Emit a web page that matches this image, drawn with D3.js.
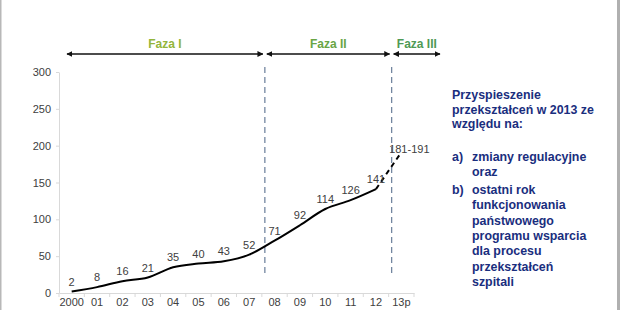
<!DOCTYPE html>
<html>
  <head>
    <meta charset="utf-8">
    <script src="https://d3js.org/d3.v7.min.js"></script>
    <title>Przekształcenia szpitali</title>
    <style>
      body { margin: 0px; background: #fff; }
      svg { font-family: "Liberation Sans", Arial, sans-serif; }
      .axis .domain, .axis .tick line { stroke: #d9d9d9; }
      .axis .tick text { fill: #404040; font-size: 11px; }
      .val { fill: #404040; font-size: 11px; text-anchor: middle; }
      .faza { font-size: 12px; font-weight: bold; text-anchor: middle; }
      .note { fill: #1a2e7e; font-size: 12.4px; font-weight: bold; }
    </style>
  </head>
  <body>
    <svg width="620" height="310"></svg>
    <script>
      // data
      const years = ['2000', '01', '02', '03', '04', '05', '06', '07', '08', '09', '10', '11', '12', '13p'];
      const values = [2, 8, 16, 21, 35, 40, 43, 52, 71, 92, 114, 126, 141];
      const forecastLow = 181;
      const forecastHigh = 191;
      const yTicks = [0, 50, 100, 150, 200, 250, 300];
      const phaseNames = ['Faza I', 'Faza II', 'Faza III'];
      const phaseStart = ['2000', '08', '13p'];
      const phaseColors = ['#93b53b', '#69a545', '#4f9a55'];
      const noteLines = ['Przyspieszenie', 'przekształceń w 2013 ze', 'względu na:'];
      const noteItems = [
        { key: 'a)', lines: ['zmiany regulacyjne', 'oraz'] },
        { key: 'b)', lines: ['ostatni rok', 'funkcjonowania', 'państwowego', 'programu wsparcia', 'dla procesu', 'przekształceń', 'szpitali'] }
      ];

      const margin = { left: 59, right: 206, top: 72, bottom: 17 };
      const svg = d3.select('svg');
      const width = +svg.attr('width');
      const height = +svg.attr('height');
      const innerWidth = width - margin.left - margin.right;
      const innerHeight = height - margin.top - margin.bottom;

      // frame edges of the slide
      svg.append('rect').attr('x', 0).attr('y', 0).attr('width', 1.5).attr('height', height).attr('fill', '#b8b8b8');
      svg.append('rect').attr('x', 617).attr('y', 0).attr('width', 3).attr('height', height).attr('fill', '#b0b0b0');

      const g = svg.append('g')
          .attr('transform', `translate(${margin.left},${margin.top})`);

      const xScale = d3.scaleBand().domain(years).range([0, innerWidth]);
      const yScale = d3.scaleLinear().domain([0, 300]).range([innerHeight, 0]);
      const cx = d => xScale(d) + xScale.bandwidth() / 2;

      const xAxis = d3.axisBottom(xScale).tickSize(0).tickPadding(5);
      const xAxisG = g.append('g').attr('class', 'axis')
          .attr('transform', `translate(0,${innerHeight})`)
          .call(xAxis);
      // ticks sit between the categories
      xAxisG.selectAll('.sep')
        .data(years.concat(['end']))
        .enter().append('line')
          .attr('class', 'sep')
          .attr('x1', (d, i) => i * xScale.bandwidth())
          .attr('x2', (d, i) => i * xScale.bandwidth())
          .attr('y1', 0).attr('y2', 4)
          .attr('stroke', '#d9d9d9');

      const yAxis = d3.axisLeft(yScale).tickValues(yTicks).tickSize(3).tickPadding(5).tickSizeOuter(0);
      g.append('g').attr('class', 'axis').call(yAxis);

      // phase dividers and arrows
      svg.append('defs').append('marker')
        .attr('id', 'arr')
        .attr('viewBox', '0 0 10 10')
        .attr('refX', 9).attr('refY', 5)
        .attr('markerWidth', 6).attr('markerHeight', 6)
        .attr('markerUnits', 'userSpaceOnUse')
        .attr('orient', 'auto-start-reverse')
        .append('path')
          .attr('d', 'M0,0 L10,5 L0,10 z')
          .attr('fill', '#111');

      const dividerX = phaseStart.slice(1).map(d => xScale(d) + 3);
      g.selectAll('.divider')
        .data(dividerX)
        .enter().append('line')
          .attr('class', 'divider')
          .attr('x1', d => d).attr('x2', d => d)
          .attr('y1', -5).attr('y2', innerHeight - 16)
          .attr('stroke', '#7386a0')
          .attr('stroke-width', 1.3)
          .attr('stroke-dasharray', '6,4');

      const phaseX0 = [8].concat(dividerX.map(d => d + 2));
      const phaseX1 = dividerX.map(d => d - 2).concat([innerWidth + 26]);
      const arrowY = -18;
      phaseNames.forEach((name, i) => {
        g.append('line')
          .attr('x1', phaseX0[i]).attr('x2', phaseX1[i])
          .attr('y1', arrowY).attr('y2', arrowY)
          .attr('stroke', '#111')
          .attr('stroke-width', 1.3)
          .attr('marker-start', 'url(#arr)')
          .attr('marker-end', 'url(#arr)');
        g.append('text')
          .attr('class', 'faza')
          .attr('x', (phaseX0[i] + phaseX1[i]) / 2)
          .attr('y', arrowY - 6)
          .attr('fill', phaseColors[i])
          .text(name);
      });

      // actual values
      const points = values.map((v, i) => ({ year: years[i], value: v }));
      const line = d3.line()
        .x(d => cx(d.year))
        .y(d => yScale(d.value))
        .curve(d3.curveMonotoneX);

      g.append('path')
        .datum(points)
        .attr('fill', 'none')
        .attr('stroke', '#000')
        .attr('stroke-width', 2)
        .attr('d', line);

      // forecast
      const last = points[points.length - 1];
      const forecast = [last, { year: '13p', value: forecastHigh }];
      g.append('path')
        .datum(forecast)
        .attr('fill', 'none')
        .attr('stroke', '#000')
        .attr('stroke-width', 2)
        .attr('stroke-dasharray', '5,4')
        .attr('d', d3.line().x(d => cx(d.year)).y(d => yScale(d.value)));

      g.selectAll('.val')
        .data(points)
        .enter().append('text')
          .attr('class', 'val')
          .attr('x', d => cx(d.year))
          .attr('y', d => yScale(d.value) - 6)
          .text(d => d.value);

      g.append('text')
        .attr('class', 'val')
        .attr('x', cx('13p') + 8)
        .attr('y', yScale(forecastHigh) + 1)
        .text(forecastLow + '-' + forecastHigh);

      // side note
      const note = svg.append('g').attr('transform', 'translate(452,99)');
      noteLines.forEach((t, i) => {
        note.append('text').attr('class', 'note').attr('x', 0).attr('y', i * 14.5).text(t);
      });
      let y = 62;
      noteItems.forEach(item => {
        note.append('text').attr('class', 'note').attr('x', 0).attr('y', y).text(item.key);
        item.lines.forEach(t => {
          note.append('text').attr('class', 'note').attr('x', 20).attr('y', y).text(t);
          y += 15.3;
        });
        y += 2.5;
      });
    </script>
  </body>
</html>
